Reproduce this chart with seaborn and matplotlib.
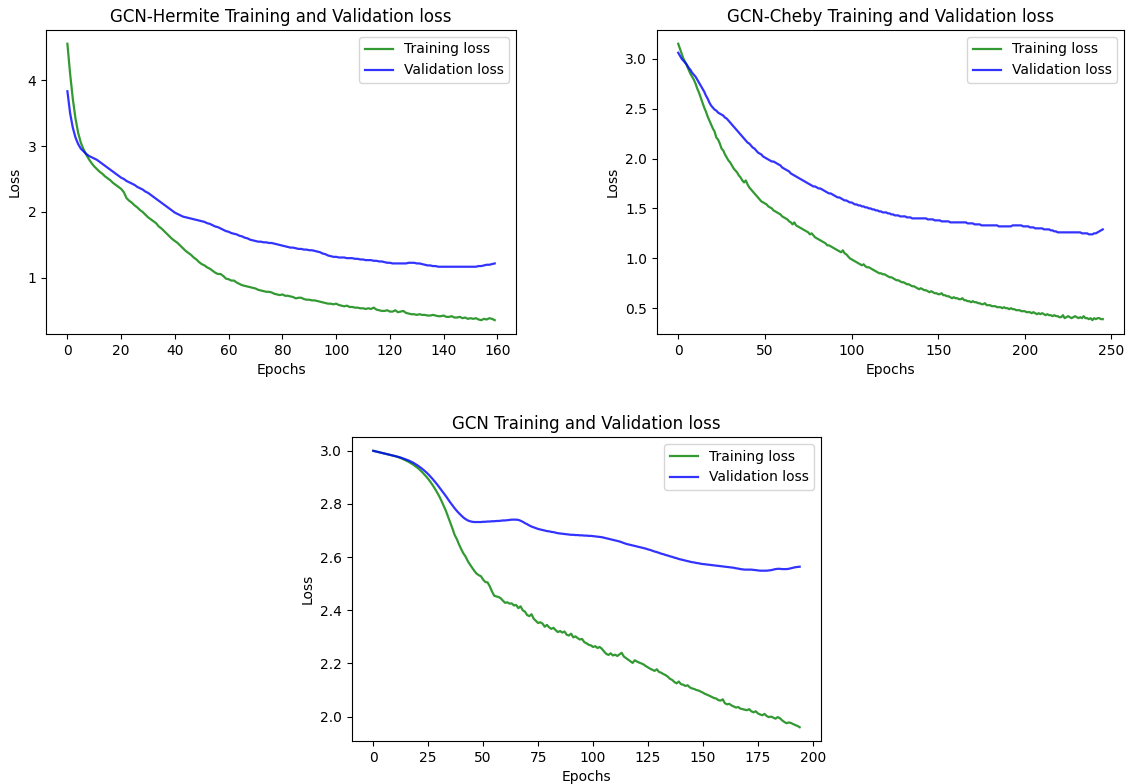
import numpy as np
import matplotlib
matplotlib.use("Agg")
import matplotlib.pyplot as plt
import seaborn as sns

# ---- GCN-Hermite (epochs 0..159) ----
hermite_train = [
    4.55, 4.10, 3.72, 3.42, 3.20, 3.05, 2.95, 2.87, 2.80, 2.74,
    2.69, 2.65, 2.61, 2.58, 2.54, 2.51, 2.48, 2.44, 2.41, 2.38,
    2.35, 2.30, 2.21, 2.17, 2.14, 2.10, 2.07, 2.03, 2.00, 1.96,
    1.92, 1.89, 1.86, 1.83, 1.78, 1.75, 1.71, 1.67, 1.63, 1.59,
    1.56, 1.53, 1.49, 1.45, 1.41, 1.38, 1.35, 1.31, 1.28, 1.24,
    1.21, 1.19, 1.16, 1.14, 1.11, 1.08, 1.06, 1.06, 1.03, 0.99,
    0.98, 0.96, 0.96, 0.93, 0.91, 0.89, 0.88, 0.87, 0.86, 0.85,
    0.84, 0.82, 0.81, 0.80, 0.79, 0.79, 0.78, 0.76, 0.75, 0.74,
    0.75, 0.73, 0.73, 0.72, 0.71, 0.69, 0.70, 0.70, 0.68, 0.67,
    0.67, 0.66, 0.66, 0.65, 0.64, 0.63, 0.62, 0.61, 0.61, 0.60,
    0.61, 0.59, 0.58, 0.57, 0.58, 0.56, 0.56, 0.55, 0.55, 0.54,
    0.54, 0.53, 0.54, 0.53, 0.55, 0.52, 0.51, 0.50, 0.50, 0.51,
    0.49, 0.49, 0.51, 0.48, 0.49, 0.50, 0.47, 0.46, 0.45, 0.45,
    0.44, 0.45, 0.44, 0.44, 0.43, 0.43, 0.44, 0.43, 0.42, 0.42,
    0.43, 0.41, 0.41, 0.42, 0.40, 0.40, 0.41, 0.39, 0.40, 0.38,
    0.39, 0.38, 0.39, 0.37, 0.36, 0.38, 0.37, 0.39, 0.38, 0.36,
]
hermite_val = [
    3.83, 3.50, 3.28, 3.13, 3.03, 2.96, 2.92, 2.88, 2.85, 2.83,
    2.81, 2.79, 2.76, 2.73, 2.70, 2.67, 2.64, 2.61, 2.58, 2.55,
    2.52, 2.50, 2.47, 2.45, 2.43, 2.41, 2.38, 2.36, 2.34, 2.31,
    2.29, 2.26, 2.23, 2.20, 2.17, 2.14, 2.11, 2.08, 2.05, 2.02,
    1.99, 1.97, 1.95, 1.93, 1.92, 1.91, 1.90, 1.89, 1.88, 1.87,
    1.86, 1.85, 1.83, 1.82, 1.80, 1.78, 1.77, 1.75, 1.73, 1.71,
    1.70, 1.68, 1.67, 1.66, 1.64, 1.63, 1.61, 1.60, 1.58, 1.57,
    1.56, 1.55, 1.55, 1.54, 1.54, 1.53, 1.53, 1.52, 1.51, 1.50,
    1.49, 1.48, 1.47, 1.46, 1.46, 1.45, 1.44, 1.44, 1.43, 1.43,
    1.42, 1.42, 1.41, 1.40, 1.39, 1.37, 1.36, 1.34, 1.33, 1.32,
    1.32, 1.31, 1.31, 1.31, 1.30, 1.30, 1.30, 1.29, 1.29, 1.28,
    1.28, 1.27, 1.27, 1.27, 1.26, 1.26, 1.25, 1.25, 1.24, 1.23,
    1.23, 1.22, 1.22, 1.22, 1.22, 1.22, 1.22, 1.23, 1.23, 1.23,
    1.22, 1.22, 1.21, 1.20, 1.19, 1.19, 1.18, 1.18, 1.17, 1.17,
    1.17, 1.17, 1.17, 1.17, 1.17, 1.17, 1.17, 1.17, 1.17, 1.17,
    1.17, 1.17, 1.17, 1.18, 1.18, 1.19, 1.20, 1.20, 1.21, 1.22,
]

# ---- GCN-Cheby (epochs 0..245) ----
cheby_train = [
    3.15, 3.10, 3.05, 3.00, 2.97, 2.93, 2.89, 2.85, 2.82, 2.79,
    2.75, 2.70, 2.66, 2.61, 2.56, 2.51, 2.47, 2.42, 2.38, 2.34,
    2.30, 2.27, 2.21, 2.19, 2.15, 2.10, 2.08, 2.04, 2.01, 1.98,
    1.96, 1.93, 1.90, 1.88, 1.86, 1.83, 1.81, 1.78, 1.76, 1.78,
    1.74, 1.71, 1.69, 1.67, 1.65, 1.63, 1.61, 1.59, 1.57, 1.56,
    1.55, 1.54, 1.52, 1.51, 1.50, 1.48, 1.47, 1.46, 1.45, 1.44,
    1.42, 1.41, 1.40, 1.39, 1.37, 1.36, 1.34, 1.36, 1.33, 1.32,
    1.31, 1.30, 1.29, 1.28, 1.27, 1.26, 1.24, 1.25, 1.23, 1.21,
    1.20, 1.19, 1.18, 1.17, 1.16, 1.15, 1.13, 1.13, 1.12, 1.11,
    1.10, 1.09, 1.08, 1.07, 1.06, 1.08, 1.05, 1.04, 1.02, 1.00,
    0.99, 0.98, 0.97, 0.96, 0.95, 0.94, 0.93, 0.94, 0.92, 0.91,
    0.91, 0.90, 0.89, 0.88, 0.87, 0.86, 0.85, 0.85, 0.84, 0.84,
    0.83, 0.82, 0.81, 0.81, 0.80, 0.79, 0.78, 0.78, 0.77, 0.76,
    0.76, 0.75, 0.74, 0.74, 0.73, 0.72, 0.72, 0.71, 0.70, 0.69,
    0.70, 0.69, 0.68, 0.68, 0.67, 0.66, 0.67, 0.66, 0.65, 0.65,
    0.64, 0.64, 0.65, 0.63, 0.63, 0.62, 0.62, 0.61, 0.60, 0.61,
    0.60, 0.60, 0.59, 0.59, 0.60, 0.58, 0.58, 0.57, 0.57, 0.56,
    0.57, 0.56, 0.56, 0.55, 0.55, 0.54, 0.54, 0.55, 0.53, 0.53,
    0.53, 0.52, 0.52, 0.52, 0.51, 0.51, 0.51, 0.50, 0.51, 0.50,
    0.50, 0.49, 0.50, 0.49, 0.49, 0.48, 0.48, 0.48, 0.47, 0.47,
    0.47, 0.46, 0.46, 0.46, 0.45, 0.46, 0.45, 0.44, 0.45, 0.44,
    0.45, 0.44, 0.43, 0.44, 0.43, 0.43, 0.42, 0.43, 0.42, 0.42,
    0.41, 0.41, 0.43, 0.40, 0.41, 0.42, 0.41, 0.40, 0.41, 0.42,
    0.41, 0.40, 0.41, 0.40, 0.42, 0.40, 0.40, 0.39, 0.40, 0.38,
    0.40, 0.39, 0.40, 0.40, 0.39, 0.39,
]
cheby_val = [
    3.06, 3.03, 3.00, 2.98, 2.96, 2.94, 2.91, 2.89, 2.86, 2.84,
    2.82, 2.79, 2.76, 2.73, 2.70, 2.67, 2.63, 2.60, 2.56, 2.53,
    2.51, 2.49, 2.48, 2.46, 2.45, 2.44, 2.43, 2.41, 2.40, 2.38,
    2.36, 2.34, 2.32, 2.30, 2.28, 2.26, 2.24, 2.22, 2.20, 2.18,
    2.16, 2.15, 2.13, 2.11, 2.10, 2.08, 2.06, 2.05, 2.04, 2.02,
    2.01, 2.00, 1.99, 1.98, 1.97, 1.97, 1.96, 1.95, 1.94, 1.93,
    1.91, 1.90, 1.89, 1.88, 1.87, 1.85, 1.84, 1.83, 1.82, 1.81,
    1.80, 1.79, 1.78, 1.77, 1.76, 1.75, 1.74, 1.73, 1.72, 1.72,
    1.71, 1.70, 1.70, 1.69, 1.68, 1.67, 1.66, 1.65, 1.65, 1.64,
    1.63, 1.62, 1.61, 1.61, 1.60, 1.59, 1.58, 1.58, 1.57, 1.56,
    1.56, 1.55, 1.54, 1.54, 1.53, 1.53, 1.52, 1.52, 1.51, 1.51,
    1.50, 1.50, 1.49, 1.49, 1.48, 1.48, 1.47, 1.47, 1.46, 1.46,
    1.46, 1.45, 1.45, 1.44, 1.44, 1.43, 1.43, 1.43, 1.42, 1.42,
    1.42, 1.42, 1.41, 1.41, 1.41, 1.40, 1.40, 1.40, 1.40, 1.40,
    1.40, 1.40, 1.40, 1.40, 1.39, 1.39, 1.39, 1.39, 1.38, 1.38,
    1.38, 1.38, 1.37, 1.37, 1.37, 1.37, 1.37, 1.36, 1.36, 1.36,
    1.36, 1.36, 1.36, 1.36, 1.36, 1.36, 1.36, 1.35, 1.35, 1.35,
    1.35, 1.34, 1.34, 1.34, 1.34, 1.33, 1.33, 1.33, 1.33, 1.33,
    1.33, 1.33, 1.33, 1.33, 1.33, 1.32, 1.32, 1.32, 1.32, 1.32,
    1.32, 1.32, 1.32, 1.33, 1.33, 1.33, 1.33, 1.33, 1.33, 1.32,
    1.32, 1.32, 1.32, 1.31, 1.31, 1.31, 1.30, 1.30, 1.30, 1.30,
    1.30, 1.29, 1.29, 1.29, 1.29, 1.28, 1.28, 1.27, 1.27, 1.26,
    1.26, 1.26, 1.26, 1.26, 1.26, 1.26, 1.26, 1.26, 1.26, 1.26,
    1.26, 1.26, 1.26, 1.25, 1.25, 1.25, 1.25, 1.24, 1.24, 1.24,
    1.25, 1.25, 1.26, 1.27, 1.28, 1.29,
]

# ---- GCN (epochs 0..194) ----
gcn_train = [
    3.000, 2.998, 2.996, 2.994, 2.992, 2.990, 2.988, 2.986, 2.984, 2.982,
    2.980, 2.977, 2.974, 2.971, 2.967, 2.963, 2.959, 2.954, 2.949, 2.943,
    2.937, 2.930, 2.922, 2.913, 2.904, 2.894, 2.883, 2.871, 2.858, 2.844,
    2.829, 2.812, 2.794, 2.775, 2.753, 2.731, 2.708, 2.684, 2.668, 2.648,
    2.630, 2.614, 2.602, 2.585, 2.572, 2.560, 2.548, 2.538, 2.532, 2.528,
    2.515, 2.506, 2.505, 2.490, 2.471, 2.455, 2.452, 2.450, 2.445, 2.436,
    2.428, 2.430, 2.425, 2.426, 2.418, 2.420, 2.408, 2.415, 2.400, 2.395,
    2.382, 2.378, 2.385, 2.368, 2.360, 2.352, 2.355, 2.350, 2.338, 2.345,
    2.336, 2.330, 2.334, 2.325, 2.318, 2.322, 2.316, 2.320, 2.308, 2.305,
    2.312, 2.298, 2.302, 2.295, 2.290, 2.292, 2.280, 2.276, 2.270, 2.268,
    2.262, 2.265, 2.258, 2.262, 2.255, 2.245, 2.236, 2.232, 2.238, 2.230,
    2.233, 2.228, 2.234, 2.240, 2.226, 2.220, 2.214, 2.208, 2.202, 2.212,
    2.207, 2.203, 2.200, 2.196, 2.190, 2.185, 2.180, 2.176, 2.172, 2.178,
    2.168, 2.165, 2.160, 2.156, 2.150, 2.142, 2.138, 2.130, 2.125, 2.132,
    2.122, 2.120, 2.115, 2.118, 2.110, 2.106, 2.104, 2.100, 2.098, 2.094,
    2.090, 2.085, 2.082, 2.078, 2.074, 2.070, 2.068, 2.062, 2.060, 2.065,
    2.050, 2.046, 2.048, 2.042, 2.038, 2.034, 2.036, 2.030, 2.028, 2.026,
    2.024, 2.028, 2.020, 2.016, 2.020, 2.012, 2.008, 2.005, 2.010, 2.002,
    1.998, 2.000, 1.996, 1.992, 1.998, 1.994, 1.986, 1.980, 1.975, 1.978,
    1.976, 1.972, 1.968, 1.965, 1.960,
]
gcn_val = [
    3.000, 2.998, 2.996, 2.994, 2.992, 2.990, 2.988, 2.986, 2.984, 2.982,
    2.980, 2.978, 2.976, 2.973, 2.970, 2.967, 2.964, 2.960, 2.956, 2.951,
    2.946, 2.940, 2.934, 2.927, 2.920, 2.912, 2.903, 2.894, 2.884, 2.874,
    2.863, 2.852, 2.841, 2.830, 2.818, 2.806, 2.795, 2.784, 2.774, 2.765,
    2.757, 2.749, 2.743, 2.738, 2.735, 2.733, 2.732, 2.732, 2.732, 2.732,
    2.733, 2.733, 2.734, 2.734, 2.735, 2.735, 2.736, 2.736, 2.737, 2.738,
    2.738, 2.739, 2.740, 2.741, 2.741, 2.741, 2.740, 2.737, 2.733, 2.728,
    2.724, 2.719, 2.715, 2.712, 2.709, 2.706, 2.704, 2.702, 2.700, 2.698,
    2.697, 2.695, 2.694, 2.692, 2.690, 2.689, 2.688, 2.687, 2.686, 2.685,
    2.684, 2.684, 2.683, 2.683, 2.682, 2.682, 2.681, 2.681, 2.680, 2.680,
    2.679, 2.678, 2.677, 2.676, 2.675, 2.673, 2.671, 2.669, 2.667, 2.665,
    2.663, 2.661, 2.659, 2.656, 2.653, 2.650, 2.648, 2.646, 2.644, 2.642,
    2.640, 2.638, 2.636, 2.634, 2.632, 2.629, 2.627, 2.624, 2.621, 2.619,
    2.616, 2.613, 2.611, 2.608, 2.606, 2.603, 2.601, 2.598, 2.596, 2.593,
    2.591, 2.589, 2.587, 2.585, 2.583, 2.581, 2.580, 2.578, 2.577, 2.575,
    2.574, 2.573, 2.572, 2.571, 2.570, 2.569, 2.568, 2.567, 2.566, 2.565,
    2.564, 2.563, 2.562, 2.561, 2.560, 2.558, 2.557, 2.555, 2.554, 2.553,
    2.553, 2.553, 2.553, 2.552, 2.551, 2.550, 2.549, 2.549, 2.549, 2.549,
    2.550, 2.551, 2.553, 2.555, 2.556, 2.556, 2.555, 2.555, 2.555, 2.556,
    2.558, 2.560, 2.562, 2.563, 2.564,
]

titles = [
    "GCN-Hermite Training and Validation loss",
    "GCN-Cheby Training and Validation loss",
    "GCN Training and Validation loss",
]
series = [
    (hermite_train, hermite_val),
    (cheby_train, cheby_val),
    (gcn_train, gcn_val),
]

plt.rcParams["font.family"] = ["DejaVu Sans"]

fig = plt.figure(figsize=(11.31, 7.84), dpi=100)
# axes rectangles in figure fractions: top-left, top-right, bottom-centre
rects = [
    [0.0407, 0.5740, 0.4156, 0.3878],
    [0.5809, 0.5740, 0.4129, 0.3878],
    [0.3112, 0.0548, 0.4147, 0.3878],
]

for rect, title, (train, val) in zip(rects, titles, series):
    ax = fig.add_axes(rect)
    sns.lineplot(x=np.arange(len(train)), y=train, ax=ax, color="g",
                 alpha=0.8, linewidth=1.6, label="Training loss")
    sns.lineplot(x=np.arange(len(val)), y=val, ax=ax, color="b",
                 alpha=0.8, linewidth=1.6, label="Validation loss")
    ax.set_title(title, fontsize=12)
    ax.set_xlabel("Epochs", fontsize=10)
    ax.set_ylabel("Loss", fontsize=10)
    ax.tick_params(labelsize=10)
    ax.legend(loc="upper right", fontsize=10)

fig.savefig("out.png", dpi=100)
